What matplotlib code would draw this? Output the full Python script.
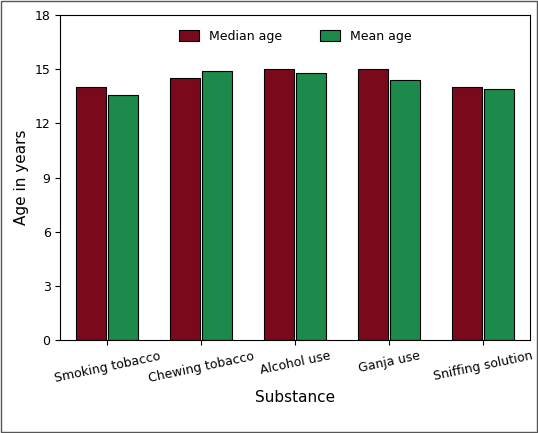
import numpy as np
import matplotlib.pyplot as plt

substances = ['Smoking tobacco', 'Chewing tobacco', 'Alcohol use', 'Ganja use', 'Sniffing solution']
median_age = [14, 14.5, 15, 15, 14]
mean_age = [13.6, 14.9, 14.8, 14.4, 13.9]

fig = plt.figure(figsize=(5.38, 4.33), dpi=100)
ax = fig.add_axes([0.112, 0.215, 0.873, 0.75])

x = np.arange(len(substances))
w = 0.32
ax.bar(x - w / 2 - 0.01, median_age, w, color='#7a0a1b', edgecolor='black', linewidth=0.8, label='Median age')
ax.bar(x + w / 2 + 0.01, mean_age, w, color='#1c8a4a', edgecolor='black', linewidth=0.8, label='Mean age')

ax.set_ylim(0, 18)
ax.set_yticks(range(0, 19, 3))
ax.set_xlim(-0.5, 4.5)
ax.set_xticks(x)
ax.set_xticklabels(substances, rotation=12, fontsize=9)
ax.tick_params(axis='y', labelsize=9)
ax.set_xlabel('Substance', fontsize=11)
ax.set_ylabel('Age in years', fontsize=11)
ax.legend(loc='upper center', ncol=2, frameon=False, fontsize=9, bbox_to_anchor=(0.5, 0.99),
          handlelength=1.6, handleheight=1.0, columnspacing=3)

rect = plt.Rectangle((0.002, 0.002), 0.996, 0.996, transform=fig.transFigure,
                     fill=False, edgecolor='#555555', linewidth=1)
fig.patches.append(rect)

fig.savefig('out.png', dpi=100)
